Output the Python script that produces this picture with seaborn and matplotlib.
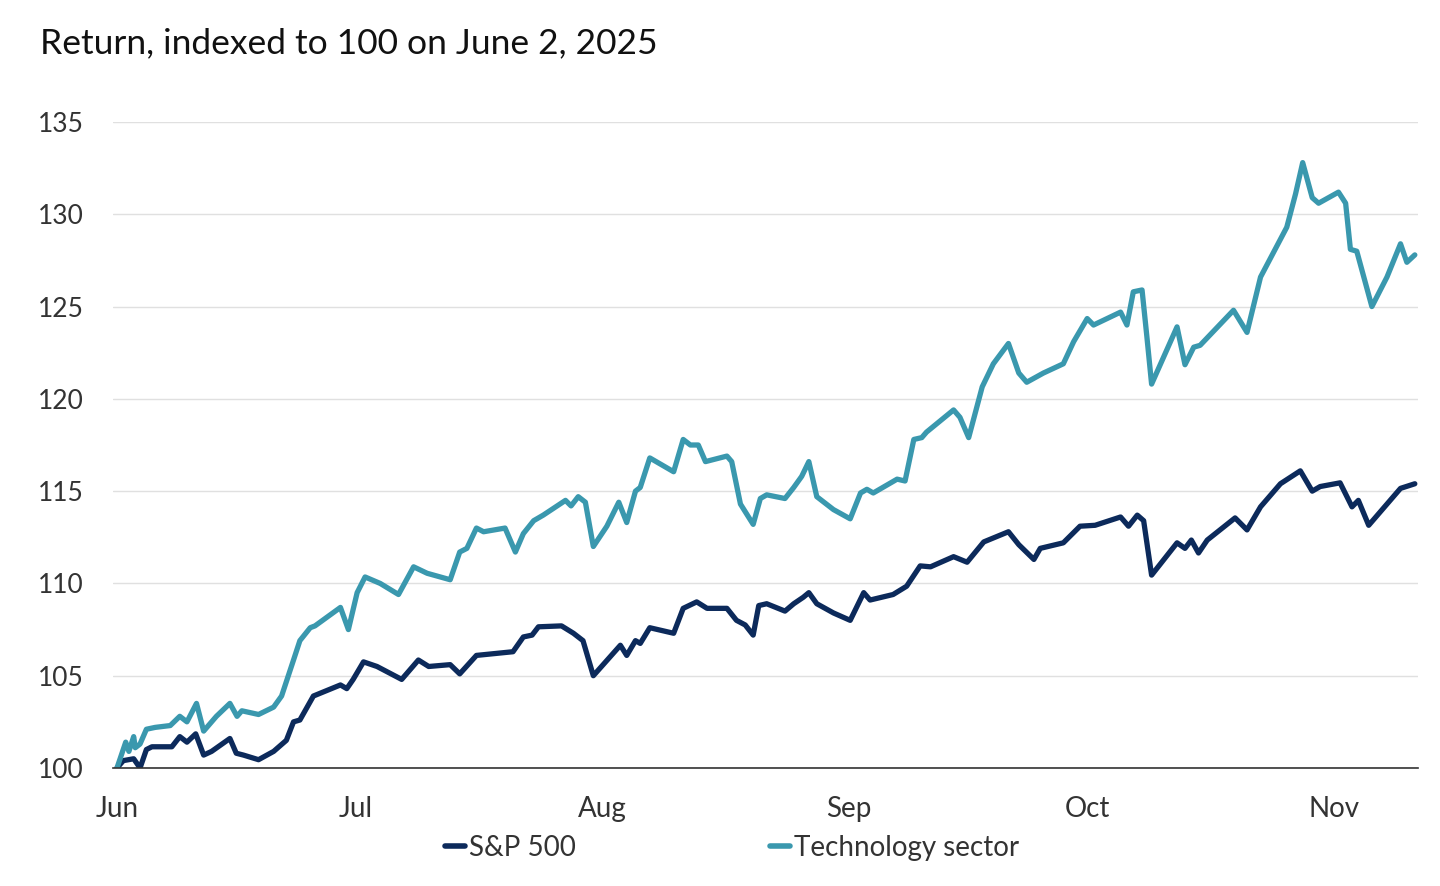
import numpy as np
import pandas as pd
import matplotlib
matplotlib.use("Agg")
import matplotlib.pyplot as plt
import matplotlib.dates as mdates
from matplotlib.lines import Line2D
import seaborn as sns

# ---------------- data ----------------
title_text = "Return, indexed to 100 on June 2, 2025"
base_date = "2025-06-02"
series_names = ["S&P 500", "Technology sector"]
series_colors = ["#0c2a5b", "#3a98ae"]
y_ticks = [100, 105, 110, 115, 120, 125, 130, 135]

# days after June 2, 2025 and index values
sp_days = [0, 0.8, 2.1, 2.9, 3.7, 4.4, 6.9, 7.9, 8.8, 9.9, 10.9, 11.9, 14.2, 15.0, 15.9,
           17.8, 19.7, 21.3, 22.2, 23.0, 24.7, 28.1, 28.9, 29.7, 31.0, 32.7, 35.8, 37.9,
           39.2, 41.9, 43.1, 45.2, 49.8, 51.1, 52.2, 53.0, 55.9, 57.4, 58.6, 59.9, 63.3,
           64.1, 65.2, 65.8, 67.0, 70.0, 71.2, 72.9, 74.2, 76.7, 77.9, 79.0, 80.0, 80.7,
           81.7, 84.0, 85.1, 86.3, 87.0, 88.0, 90.1, 92.2, 93.9, 94.7, 97.6, 99.3, 101.0,
           102.3, 105.2, 106.9, 109.0, 112.1, 113.4, 115.3, 116.1, 119.0, 121.1, 123.0,
           126.2, 127.2, 128.3, 129.1, 130.1, 133.3, 134.3, 135.1, 136.0, 137.1, 140.6,
           142.1, 143.8, 146.3, 148.8, 150.3, 151.3, 153.8, 155.3, 156.1, 157.4, 161.4, 163.2]
sp_vals = [100.0, 100.4, 100.5, 100.0, 101.0, 101.15, 101.15, 101.7, 101.4, 101.85, 100.7,
           100.9, 101.6, 100.8, 100.7, 100.45, 100.9, 101.5, 102.5, 102.6, 103.9, 104.5,
           104.3, 104.8, 105.75, 105.5, 104.8, 105.85, 105.5, 105.6, 105.1, 106.1, 106.3,
           107.1, 107.2, 107.65, 107.7, 107.3, 106.9, 105.0, 106.65, 106.1, 106.9, 106.75,
           107.6, 107.3, 108.65, 109.0, 108.65, 108.65, 108.0, 107.75, 107.2, 108.8, 108.9,
           108.5, 108.9, 109.25, 109.5, 108.9, 108.4, 108.0, 109.5, 109.1, 109.4, 109.85,
           110.95, 110.9, 111.45, 111.15, 112.25, 112.8, 112.1, 111.3, 111.9, 112.2, 113.1,
           113.15, 113.6, 113.1, 113.7, 113.4, 110.45, 112.2, 111.9, 112.35, 111.65, 112.35,
           113.55, 112.9, 114.15, 115.4, 116.1, 115.0, 115.25, 115.45, 114.15, 114.5, 113.15,
           115.15, 115.4]

tech_days = [0, 1.1, 1.5, 2.1, 2.3, 2.9, 3.7, 4.8, 6.7, 7.9, 8.8, 10.0, 10.9, 12.5, 14.2,
             15.1, 15.7, 17.8, 19.7, 20.7, 22.2, 23.0, 24.3, 24.9, 28.1, 29.1, 30.2, 31.2,
             33.1, 35.4, 37.3, 39.0, 41.9, 43.1, 44.0, 45.2, 46.1, 48.8, 50.1, 51.1, 52.4,
             53.6, 56.4, 57.1, 58.0, 58.9, 59.9, 61.6, 63.1, 64.1, 65.2, 65.8, 67.0, 70.0,
             71.2, 72.1, 73.1, 74.0, 76.7, 77.3, 78.4, 80.0, 80.9, 81.7, 84.0, 85.1, 86.1,
             87.0, 88.0, 90.1, 92.2, 93.5, 94.3, 95.1, 98.1, 99.1, 100.2, 101.2, 101.8, 105.2,
             106.0, 107.1, 108.8, 110.2, 112.1, 113.4, 114.4, 116.5, 119.0, 120.3, 122.0,
             122.8, 126.2, 127.0, 127.8, 128.9, 129.5, 130.1, 133.3, 134.3, 135.4, 136.2,
             140.4, 142.1, 143.8, 147.1, 148.2, 149.1, 150.3, 151.1, 153.6, 154.5, 155.1,
             155.9, 157.8, 159.7, 161.4, 162.2, 163.2]
tech_vals = [100.0, 101.4, 100.9, 101.7, 101.1, 101.3, 102.1, 102.2, 102.3, 102.8, 102.5,
             103.5, 102.0, 102.8, 103.5, 102.8, 103.1, 102.9, 103.3, 103.9, 105.85, 106.9,
             107.6, 107.7, 108.7, 107.5, 109.5, 110.35, 110.0, 109.4, 110.9, 110.55, 110.2,
             111.7, 111.9, 113.0, 112.8, 113.0, 111.7, 112.7, 113.4, 113.7, 114.5, 114.2,
             114.7, 114.4, 112.0, 113.1, 114.4, 113.3, 115.0, 115.2, 116.8, 116.05, 117.8,
             117.5, 117.5, 116.6, 116.9, 116.6, 114.3, 113.2, 114.6, 114.8, 114.6, 115.2,
             115.8, 116.6, 114.7, 114.0, 113.5, 114.9, 115.1, 114.9, 115.65, 115.55, 117.8,
             117.9, 118.2, 119.4, 119.0, 117.9, 120.65, 121.9, 123.0, 121.4, 120.9, 121.4,
             121.9, 123.1, 124.35, 124.0, 124.7, 124.0, 125.8, 125.9, 123.4, 120.8, 123.9,
             121.85, 122.8, 122.9, 124.8, 123.6, 126.6, 129.3, 131.1, 132.8, 130.9, 130.6,
             131.2, 130.6, 128.1, 128.0, 125.0, 126.6, 128.4, 127.4, 127.8]

# ---------------- frame ----------------
start = pd.Timestamp(base_date)
df = pd.concat([
    pd.DataFrame({"date": start + pd.to_timedelta(sp_days, unit="D"),
                  "value": sp_vals, "series": series_names[0]}),
    pd.DataFrame({"date": start + pd.to_timedelta(tech_days, unit="D"),
                  "value": tech_vals, "series": series_names[1]}),
], ignore_index=True)

sns.set_theme(style="white")
plt.rcParams["font.family"] = ["Lato", "DejaVu Sans"]

W, H = 1440, 886
fig = plt.figure(figsize=(W / 100, H / 100), dpi=100)
ax = fig.add_axes([113 / W, 1 - 768 / H, (1418 - 113) / W, (768 - 122) / H])

sns.lineplot(data=df, x="date", y="value", hue="series",
             palette=dict(zip(series_names, series_colors)),
             estimator=None, sort=False, linewidth=3.8, legend=False, ax=ax,
             solid_joinstyle="round", solid_capstyle="round")

ax.set_ylim(100, 135)
ax.set_yticks(y_ticks)
ax.set_xlim(start - pd.Timedelta(hours=12), start + pd.Timedelta(days=163.6))
ax.xaxis.set_major_locator(mdates.MonthLocator(bymonthday=2))
ax.xaxis.set_major_formatter(mdates.DateFormatter("%b"))
ax.set_xlabel("")
ax.set_ylabel("")
ax.grid(axis="y", color="#e0e0e0", linewidth=1)
ax.grid(axis="x", visible=False)
ax.set_axisbelow(True)
for s in ["top", "right", "left"]:
    ax.spines[s].set_visible(False)
ax.spines["bottom"].set_color("#333333")
ax.spines["bottom"].set_linewidth(1.2)
ax.tick_params(axis="x", length=0, labelsize=20, colors="#333333", pad=20)
ax.tick_params(axis="y", length=0, labelsize=19, colors="#333333", pad=21)

fig.text(40 / W, 1 - 53 / H, title_text, fontsize=25.5, color="#111111",
         ha="left", va="baseline")

handles = [Line2D([0], [0], color=c, linewidth=4, solid_capstyle="round") for c in series_colors]
fig.legend(handles, series_names, loc="center", bbox_to_anchor=(732 / W, 1 - 848 / H),
           ncol=2, frameon=False, fontsize=20, handlelength=0.7, handletextpad=0.15,
           columnspacing=7.0, labelcolor="#333333")

fig.savefig("out.png", dpi=100)
